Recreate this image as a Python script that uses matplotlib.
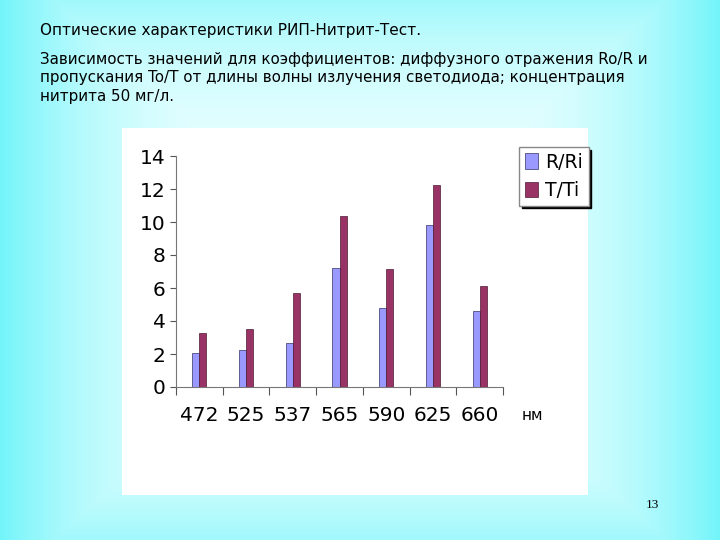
import matplotlib.pyplot as plt
import numpy as np
from matplotlib.patches import Rectangle

wavelengths = ["472", "525", "537", "565", "590", "625", "660"]
r_ri = [2.05, 2.25, 2.65, 7.2, 4.8, 9.8, 4.6]
t_ti = [3.25, 3.5, 5.7, 10.35, 7.15, 12.25, 6.15]

fig = plt.figure(figsize=(7.2, 5.4), dpi=100)

# slide background: cyan edges fading to near-white center
bg = fig.add_axes([0, 0, 1, 1])
xx = np.linspace(-1, 1, 400)
yy = np.linspace(-1, 1, 300)
X, Y = np.meshgrid(xx, yy)
d = np.clip(np.maximum(np.abs(X), np.abs(Y) * 0.85), 0, 1) ** 3
c0 = np.array([0.93, 1.0, 1.0])
c1 = np.array([0.45, 0.96, 0.98])
img = c0[None, None, :] * (1 - d[..., None]) + c1[None, None, :] * d[..., None]
bg.imshow(img, extent=[0, 1, 0, 1], aspect="auto", origin="lower")
bg.add_patch(Rectangle((122 / 720, 1 - 495 / 540), 466 / 720, 367 / 540,
                       facecolor="white", edgecolor="none"))
bg.set_xlim(0, 1)
bg.set_ylim(0, 1)
bg.axis("off")

fig.text(40 / 720, 1 - 30 / 540, "Оптические характеристики РИП-Нитрит-Тест.",
         fontsize=11, va="center")
fig.text(40 / 720, 1 - 78 / 540,
         "Зависимость значений для коэффициентов: диффузного отражения Ro/R и\n"
         "пропускания To/T от длины волны излучения светодиода; концентрация\n"
         "нитрита 50 мг/л.", fontsize=10.9, va="center", linespacing=1.3)
fig.text(652 / 720, 1 - 505 / 540, "13", fontsize=9.5, family="Liberation Serif",
         ha="center", va="center")

ax = fig.add_axes([176 / 720, 1 - 387 / 540, 327 / 720, 231 / 540])
x = np.arange(len(wavelengths))
w = 0.15
ax.bar(x - w / 2, r_ri, w, color="#9999ff", edgecolor="#333366", linewidth=0.5, label="R/Ri")
ax.bar(x + w / 2, t_ti, w, color="#993366", edgecolor="#4d1a33", linewidth=0.5, label="T/Ti")
ax.set_xlim(-0.5, len(wavelengths) - 0.5)
ax.set_ylim(0, 14)
ax.set_yticks(range(0, 15, 2))
ax.set_xticks(np.arange(-0.5, len(wavelengths), 1.0), minor=False)
ax.set_xticklabels([])
ax.set_xticks(x, minor=True)
ax.set_xticklabels(wavelengths, minor=True, fontsize=14.5)
ax.tick_params(axis="x", which="minor", length=0, pad=14)
ax.tick_params(axis="x", which="major", direction="out", length=6, color="#555555")
ax.tick_params(axis="y", direction="out", length=4, color="#555555", labelsize=14.5)
for s in ["top", "right"]:
    ax.spines[s].set_visible(False)
for s in ["left", "bottom"]:
    ax.spines[s].set_color("#777777")
ax.set_facecolor("white")
fig.text(532 / 720, 1 - 415 / 540, "нм", fontsize=11, ha="center", va="center")

leg = ax.legend(loc="upper left", bbox_to_anchor=(1.02, 1.08), fontsize=13.5,
                handlelength=0.7, handleheight=0.9, handletextpad=0.4,
                fancybox=False, shadow={"color": "black", "alpha": 1.0},
                borderpad=0.3, framealpha=1)
leg.get_frame().set_edgecolor("#888888")

fig.savefig("out.png", dpi=100)
